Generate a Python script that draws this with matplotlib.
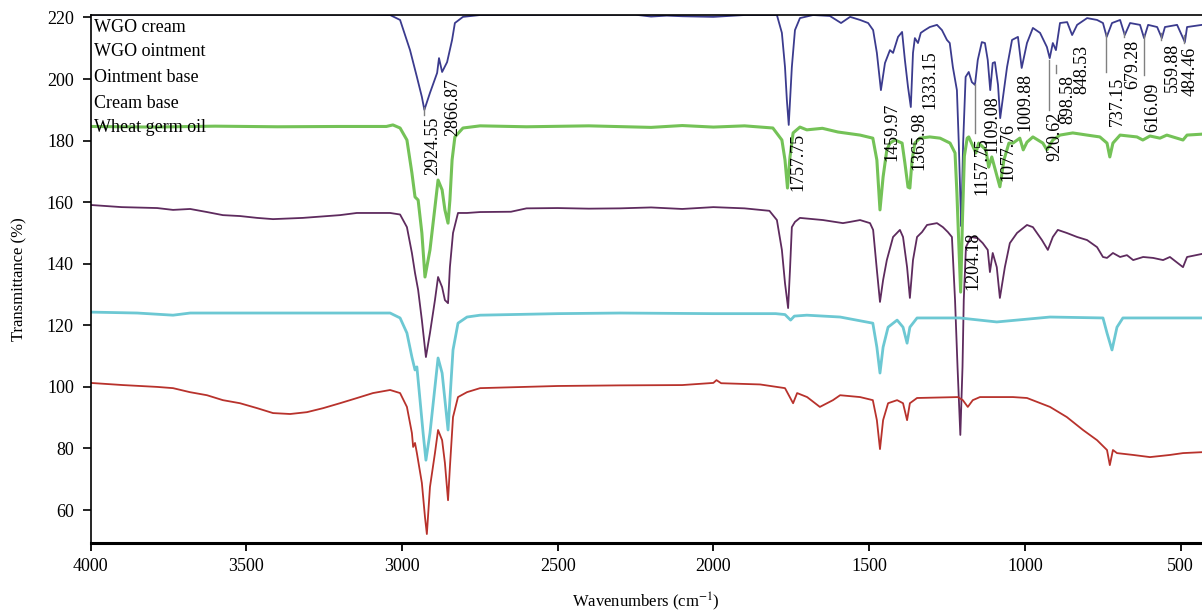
import numpy as np
import matplotlib.pyplot as plt

plt.rcParams['font.family'] = ['Liberation Serif', 'DejaVu Serif']
plt.rcParams['mathtext.fontset'] = 'stix'

# FTIR spectra, (wavenumber cm-1, transmittance %)
wgo_cream = [
    (4000, 220.9), (3100, 220.9), (3038, 220.8), (3006, 219.2), (2974, 209.4), (2952, 200.7),
    (2936, 194.2), (2928, 190.0), (2910, 195.5), (2887, 202.0), (2881, 206.8), (2871, 202.3),
    (2855, 205.5), (2839, 212.7), (2830, 218.2), (2804, 220.2), (2749, 220.8), (2250, 220.9),
    (2200, 220.3), (2150, 220.6), (2100, 220.4), (2000, 220.2), (1900, 220.8), (1796, 220.8),
    (1780, 215.0), (1770, 203.9), (1764, 193.2), (1758, 185.1), (1748, 203.9), (1738, 215.9),
    (1722, 219.8), (1680, 220.8), (1626, 220.5), (1590, 218.2), (1561, 220.2), (1529, 219.2),
    (1503, 218.2), (1487, 215.9), (1475, 208.5), (1462, 196.4), (1449, 205.2), (1433, 209.4),
    (1423, 208.5), (1407, 213.7), (1394, 215.3), (1385, 206.2), (1375, 197.4), (1366, 190.9),
    (1359, 208.5), (1353, 213.3), (1343, 211.7), (1334, 215.0), (1321, 215.9), (1305, 216.9),
    (1282, 217.6), (1266, 215.9), (1250, 212.7), (1241, 211.7), (1231, 203.9), (1218, 196.4),
    (1212, 179.2), (1207, 161.7), (1204, 152.2), (1198, 179.2), (1190, 200.7), (1180, 202.3),
    (1170, 199.0), (1160, 198.1), (1151, 206.2), (1138, 212.0), (1128, 211.7), (1119, 206.2),
    (1111, 196.4), (1103, 205.2), (1096, 205.5), (1086, 198.1), (1079, 187.3), (1067, 196.4),
    (1057, 203.9), (1041, 212.7), (1022, 213.7), (1010, 203.6), (993, 211.7), (974, 216.6),
    (951, 215.0), (929, 210.4), (920, 206.8), (910, 211.7), (900, 209.4), (887, 218.2),
    (864, 218.5), (848, 214.3), (832, 217.6), (800, 219.8), (768, 219.2), (749, 218.2),
    (737, 213.7), (720, 218.2), (694, 219.2), (679, 214.3), (662, 218.2), (630, 217.6),
    (617, 213.3), (604, 217.6), (575, 216.9), (560, 213.3), (550, 216.9), (511, 217.6),
    (486, 212.0), (479, 216.9), (431, 217.6),
]

wgo_ointment = [
    (4000, 184.6), (3800, 184.4), (3600, 184.7), (3400, 184.5), (3200, 184.6), (3050, 184.6),
    (3029, 185.1), (3006, 184.1), (2984, 180.2), (2968, 169.5), (2958, 161.7), (2948, 160.7),
    (2936, 150.0), (2926, 135.7), (2910, 144.5), (2894, 158.4), (2884, 167.2), (2871, 164.0),
    (2862, 157.5), (2852, 153.2), (2846, 160.7), (2839, 173.7), (2830, 181.2), (2804, 184.1),
    (2749, 184.8), (2600, 184.5), (2400, 184.8), (2200, 184.3), (2100, 184.9), (2000, 184.4),
    (1900, 184.8), (1809, 184.1), (1780, 180.2), (1770, 173.7), (1762, 164.6), (1754, 174.7),
    (1744, 182.5), (1722, 184.4), (1700, 183.5), (1650, 184.0), (1600, 182.8), (1529, 181.8),
    (1488, 180.8), (1475, 173.7), (1465, 157.5), (1455, 168.2), (1443, 177.0), (1433, 179.2),
    (1417, 180.2), (1394, 179.2), (1385, 172.7), (1375, 164.9), (1369, 164.6), (1362, 173.7),
    (1353, 179.2), (1337, 180.8), (1305, 181.2), (1272, 180.8), (1240, 179.2), (1224, 176.0),
    (1218, 163.0), (1212, 146.7), (1206, 130.8), (1200, 155.0), (1194, 175.0), (1185, 180.8),
    (1180, 181.2), (1157, 176.0), (1148, 179.2), (1125, 177.0), (1116, 171.4), (1106, 174.7),
    (1080, 165.0), (1067, 173.7), (1051, 179.2), (1038, 179.2), (1016, 180.8), (1005, 177.0),
    (993, 179.5), (974, 181.2), (942, 179.2), (929, 177.0), (910, 180.2), (887, 181.8),
    (846, 182.5), (800, 181.8), (759, 181.2), (736, 179.2), (727, 174.7), (717, 179.2),
    (694, 181.8), (640, 181.2), (621, 180.2), (598, 181.5), (566, 180.8), (544, 181.8),
    (492, 180.2), (479, 181.8), (431, 182.1),
]

ointment_base = [
    (4000, 159.1), (3900, 158.4), (3786, 158.1), (3735, 157.5), (3680, 157.8), (3626, 156.8),
    (3575, 155.8), (3520, 155.5), (3465, 154.9), (3414, 154.5), (3318, 154.9), (3199, 155.8),
    (3145, 156.5), (3038, 156.5), (3006, 156.0), (2984, 151.9), (2968, 143.5), (2958, 137.0),
    (2948, 131.5), (2936, 121.7), (2923, 109.7), (2910, 117.5), (2894, 128.2), (2884, 135.7),
    (2871, 132.4), (2862, 128.2), (2852, 127.2), (2846, 138.9), (2836, 150.0), (2820, 156.5),
    (2791, 156.5), (2749, 156.8), (2650, 156.9), (2600, 158.0), (2500, 158.1), (2400, 157.9),
    (2300, 158.0), (2200, 158.3), (2100, 157.8), (2000, 158.4), (1900, 158.0), (1820, 157.2),
    (1796, 154.2), (1780, 144.5), (1770, 133.7), (1760, 125.6), (1754, 138.0), (1748, 151.9),
    (1738, 153.6), (1722, 154.9), (1648, 154.2), (1584, 153.2), (1561, 153.6), (1529, 154.2),
    (1497, 153.2), (1487, 151.0), (1475, 138.0), (1465, 127.6), (1455, 134.7), (1443, 141.2),
    (1423, 148.7), (1401, 151.0), (1391, 148.7), (1378, 138.9), (1369, 128.9), (1359, 141.2),
    (1346, 148.7), (1330, 150.3), (1314, 152.6), (1282, 153.2), (1263, 151.9), (1247, 150.3),
    (1234, 148.7), (1224, 128.2), (1216, 106.5), (1207, 84.4), (1200, 106.5), (1196, 128.2),
    (1189, 145.4), (1173, 148.7), (1151, 148.3), (1135, 146.7), (1119, 144.5), (1112, 137.3),
    (1103, 143.5), (1090, 138.9), (1080, 128.9), (1064, 138.9), (1048, 146.7), (1025, 150.0),
    (993, 152.6), (974, 151.9), (945, 147.7), (926, 144.5), (910, 148.7), (894, 151.0),
    (865, 150.0), (832, 148.7), (800, 147.7), (768, 145.4), (749, 142.2), (736, 141.9),
    (717, 143.5), (694, 142.2), (672, 142.8), (652, 141.2), (620, 142.2), (588, 141.9),
    (556, 141.2), (534, 142.2), (492, 138.9), (479, 142.2), (431, 143.2),
]

cream_base = [
    (4000, 124.3), (3850, 124.0), (3735, 123.3), (3680, 124.0), (3575, 124.0), (3400, 124.0),
    (3200, 124.0), (3038, 124.0), (3006, 122.4), (2984, 117.5), (2968, 109.7), (2958, 105.5),
    (2952, 106.5), (2942, 95.8), (2932, 85.0), (2923, 76.2), (2910, 85.0), (2894, 100.0),
    (2884, 109.4), (2871, 104.5), (2862, 95.8), (2852, 86.0), (2846, 95.8), (2836, 112.0),
    (2820, 120.7), (2791, 122.7), (2749, 123.3), (2500, 123.8), (2300, 124.0), (2000, 123.8),
    (1800, 123.8), (1770, 123.5), (1752, 121.7), (1740, 123.0), (1700, 123.3), (1593, 122.7),
    (1488, 120.7), (1475, 112.9), (1465, 104.5), (1455, 112.9), (1439, 119.4), (1410, 121.7),
    (1391, 119.4), (1378, 114.2), (1369, 119.4), (1346, 122.4), (1209, 122.4), (1090, 121.1),
    (919, 122.7), (749, 122.4), (736, 117.5), (720, 112.0), (704, 119.4), (685, 122.4),
    (431, 122.4),
]

wheat_germ_oil = [
    (4000, 101.3), (3896, 100.6), (3786, 100.0), (3735, 99.6), (3681, 98.3), (3626, 97.3),
    (3575, 95.7), (3520, 94.7), (3465, 93.1), (3414, 91.5), (3359, 91.2), (3305, 91.8),
    (3253, 93.1), (3199, 94.7), (3144, 96.4), (3093, 98.0), (3038, 99.0), (3006, 98.0),
    (2984, 93.5), (2968, 85.0), (2964, 80.5), (2958, 81.8), (2952, 78.5), (2936, 68.8),
    (2926, 57.7), (2920, 52.2), (2910, 67.5), (2894, 78.5), (2884, 86.0), (2871, 82.7),
    (2862, 75.3), (2852, 63.2), (2846, 73.9), (2836, 90.2), (2820, 96.7), (2791, 98.3),
    (2749, 99.6), (2500, 100.3), (2300, 100.5), (2100, 100.6), (2000, 101.3), (1990, 102.2),
    (1975, 101.2), (1850, 100.8), (1770, 99.6), (1744, 94.7), (1731, 98.0), (1699, 96.7),
    (1658, 93.5), (1616, 95.7), (1593, 97.3), (1529, 96.7), (1488, 95.7), (1475, 89.2),
    (1465, 79.8), (1455, 89.2), (1439, 94.7), (1410, 95.7), (1391, 94.7), (1378, 89.2),
    (1369, 94.7), (1346, 96.4), (1215, 96.7), (1199, 95.7), (1183, 93.5), (1167, 95.7),
    (1144, 96.7), (1038, 96.7), (993, 96.4), (919, 93.5), (865, 90.2), (813, 86.0),
    (768, 82.7), (736, 79.5), (727, 74.6), (717, 79.5), (704, 78.5), (652, 77.9),
    (598, 77.2), (534, 77.9), (492, 78.5), (431, 78.8),
]

series_names = ['WGO cream', 'WGO ointment', 'Ointment base', 'Cream base', 'Wheat germ oil']
series_data = [wgo_cream, wgo_ointment, ointment_base, cream_base, wheat_germ_oil]
series_colors = ['#3b3b8e', '#74c257', '#5e2b5e', '#6cc8d3', '#b8322c']
series_widths = [1.3, 2.2, 1.3, 2.0, 1.3]

# peak labels: text, label centre (cm-1), top of text (%)
peak_text = ['2924.55', '2866.87', '1757.75', '1459.97', '1365.98', '1333.15', '1157.75',
             '1109.08', '1077.76', '1009.88', '920.62', '898.58', '848.53', '737.15',
             '679.28', '616.09', '559.88', '484.46', '1204.18']
peak_x = [2900, 2836, 1728, 1426, 1340, 1305, 1138, 1106, 1054, 1000, 903, 862, 817,
          704, 652, 588, 527, 470, 1167]
peak_top = [187.7, 200.3, 182.5, 192.5, 189.3, 209.4, 181.2, 194.8, 185.7, 202.0, 189.3,
            201.3, 211.1, 200.7, 212.7, 199.0, 211.7, 210.4, 150.3]

# grey leader lines: x, from, to
leader_x = [2929, 1160, 922, 900, 739, 681, 617, 562, 488]
leader_from = [190.9, 198.4, 206.2, 204.6, 215.0, 215.3, 214.3, 215.0, 214.3]
leader_to = [188.3, 182.5, 190.0, 202.0, 202.3, 213.7, 201.3, 212.7, 211.7]

fig = plt.figure(figsize=(12.02, 6.13), dpi=100)
ax = fig.add_axes([0.0753, 0.1147, 0.9247, 0.8608])

for data, color, lw in zip(series_data, series_colors, series_widths):
    wn, t = np.array(data).T
    ax.plot(wn, t, color=color, lw=lw, solid_joinstyle='round')

for x, y0, y1 in zip(leader_x, leader_from, leader_to):
    ax.plot([x, x], [y0, y1], color='#808080', lw=1)

for txt, x, y in zip(peak_text, peak_x, peak_top):
    ax.text(x, y, txt, rotation=90, ha='center', va='top', fontsize=13)

# legend is plain text in the top-left corner
legend_y = [0.977, 0.930, 0.881, 0.833, 0.786]
for name, y in zip(series_names, legend_y):
    ax.text(0.003, y, name, transform=ax.transAxes, ha='left', va='center', fontsize=13)

ax.set_xlim(4000, 431)
ax.set_ylim(49.4, 220.8)
ax.set_xticks([4000, 3500, 3000, 2500, 2000, 1500, 1000, 500])
ax.set_yticks(range(60, 221, 20))
ax.tick_params(axis='both', direction='out', labelsize=13)
ax.tick_params(axis='x', length=6, width=1.3, pad=5)
ax.tick_params(axis='y', length=6, width=1.2, pad=6)

ax.spines['right'].set_visible(False)
ax.spines['bottom'].set_linewidth(2.2)
ax.spines['left'].set_linewidth(1.2)
ax.spines['top'].set_linewidth(1.2)

ax.set_xlabel(r'Wavenumbers (cm$^{-1}$)', fontsize=12, labelpad=11)
ax.set_ylabel('Transmittance (%)', fontsize=12, labelpad=14)

fig.savefig('out.png', dpi=100)
